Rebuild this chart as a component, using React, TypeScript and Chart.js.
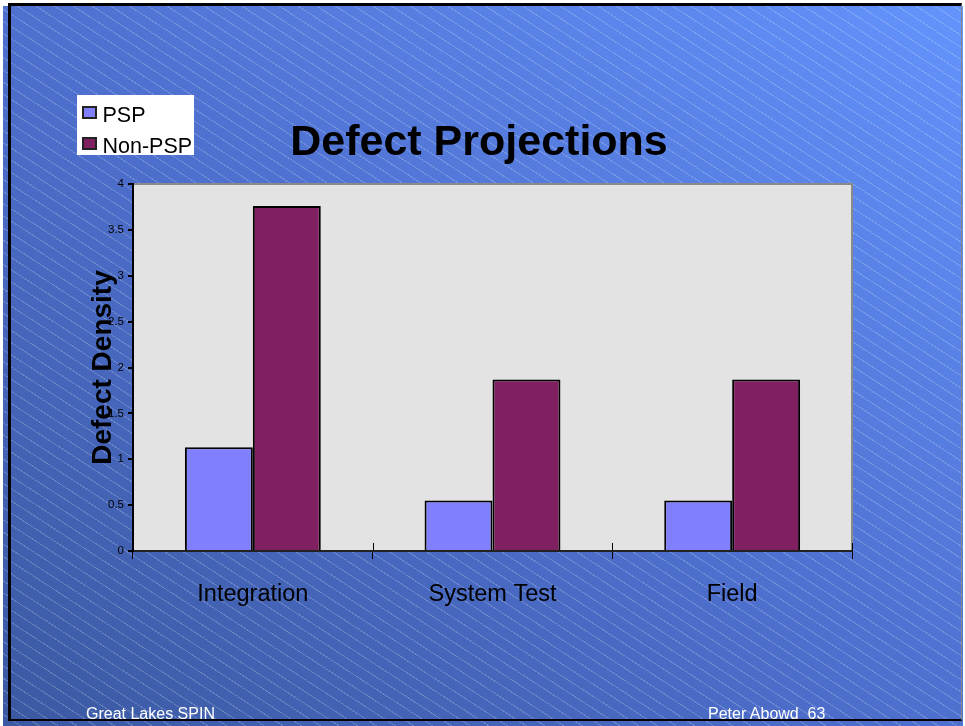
import React, { useEffect, useRef } from "react";
import { Chart, registerables } from "chart.js";

Chart.register(...registerables);

// ---- data ----
const categories = ["Integration", "System Test", "Field"];
const seriesNames = ["PSP", "Non-PSP"];
const pspValues = [1.13, 0.55, 0.55];
const nonPspValues = [3.76, 1.87, 1.87];
const yTickValues = [0, 0.5, 1, 1.5, 2, 2.5, 3, 3.5, 4];
const seriesColors = ["#8080ff", "#802060"];
const titleText = "Defect Projections";
const yTitleText = "Defect Density";
const footerLeft = "Great Lakes SPIN";
const footerRight = "Peter Abowd  63";

const FONT = '"Liberation Sans", Arial, Helvetica, sans-serif';

const plotBg = {
  id: "plotBg",
  beforeDraw(chart: any) {
    const { ctx, chartArea: a } = chart;
    ctx.save();
    ctx.fillStyle = "#e3e3e3";
    ctx.fillRect(a.left, a.top, a.right - a.left, a.bottom - a.top);
    ctx.strokeStyle = "#8a8a8a";
    ctx.lineWidth = 2;
    ctx.beginPath();
    ctx.moveTo(a.left, a.top);
    ctx.lineTo(a.right, a.top);
    ctx.lineTo(a.right, a.bottom);
    ctx.stroke();
    ctx.restore();
  },
};

const innerTicks = {
  id: "innerTicks",
  afterDraw(chart: any) {
    const { ctx, chartArea: a } = chart;
    const xs = chart.scales.x;
    ctx.save();
    ctx.strokeStyle = "#000";
    ctx.lineWidth = 1;
    for (let i = 0; i <= categories.length; i++) {
      const px = Math.round(xs.getPixelForValue(i - 0.5)) + 0.5;
      ctx.beginPath();
      ctx.moveTo(px, a.bottom - 8);
      ctx.lineTo(px, a.bottom);
      ctx.stroke();
    }
    ctx.restore();
  },
};

export default function App() {
  const ref = useRef<HTMLCanvasElement>(null);

  useEffect(() => {
    const chart = new Chart(ref.current as HTMLCanvasElement, {
      type: "bar",
      data: {
        labels: categories,
        datasets: [
          {
            label: seriesNames[0],
            data: pspValues,
            backgroundColor: seriesColors[0],
            borderColor: "#000",
            borderWidth: 2,
            categoryPercentage: 0.567,
            barPercentage: 1,
          },
          {
            label: seriesNames[1],
            data: nonPspValues,
            backgroundColor: seriesColors[1],
            borderColor: "#000",
            borderWidth: 2,
            categoryPercentage: 0.567,
            barPercentage: 1,
          },
        ],
      },
      options: {
        animation: false,
        responsive: true,
        maintainAspectRatio: false,
        layout: { padding: { top: 184, right: 113, bottom: 0, left: 0 } },
        plugins: {
          legend: { display: false },
          title: { display: false },
          tooltip: { enabled: false },
        },
        scales: {
          x: {
            type: "category",
            offset: true,
            grid: {
              offset: true,
              drawOnChartArea: false,
              color: "#000",
              lineWidth: 1,
              tickLength: 8,
            },
            border: { color: "#222", width: 2 },
            ticks: {
              color: "#000",
              font: { family: FONT, size: 23.5 },
              padding: 21,
              maxRotation: 0,
              autoSkip: false,
            },
            afterFit: (s: any) => {
              s.height = 175;
            },
          },
          y: {
            min: 0,
            max: 4,
            grid: {
              drawOnChartArea: false,
              color: "#000",
              lineWidth: 2,
              tickLength: 5,
            },
            border: { color: "#000", width: 2 },
            ticks: {
              color: "#000",
              font: { family: FONT, size: 11.5 },
              padding: 4,
              z: -2,
              callback: (v: any) => String(v),
            },
            afterBuildTicks: (s: any) => {
              s.ticks = yTickValues.map((v) => ({ value: v }));
            },
            title: {
              display: true,
              text: yTitleText,
              color: "#000",
              font: { family: FONT, size: 28, weight: "bold" },
              padding: { top: 86, bottom: 0 },
            },
            afterFit: (s: any) => {
              s.width = 133;
            },
          },
        },
      } as any,
      plugins: [plotBg, innerTicks],
    });
    return () => chart.destroy();
  }, []);

  const text = (
    content: string,
    left: number,
    top: number,
    size: number,
    extra: any = {}
  ) => (
    <div
      style={{
        position: "absolute",
        left,
        top,
        fontSize: size,
        lineHeight: `${size}px`,
        whiteSpace: "pre",
        fontFamily: FONT,
        ...extra,
      }}
    >
      {content}
    </div>
  );

  return (
    <div
      style={{
        position: "absolute",
        left: 0,
        top: 0,
        width: 965,
        height: 726,
        overflow: "hidden",
        background: "#fff",
        fontFamily: FONT,
      }}
    >
      <div
        style={{
          position: "absolute",
          left: 3,
          top: 6,
          width: 960,
          height: 720,
          background:
            "repeating-linear-gradient(33deg, rgba(255,255,255,0) 0px, rgba(255,255,255,0) 9.2px, rgba(255,255,255,0.2) 9.2px, rgba(255,255,255,0.2) 10.2px), linear-gradient(to top right, #3b59a2 0%, #4e70cf 50%, #6393fc 100%)",
        }}
      />
      <div
        style={{
          position: "absolute",
          left: 8,
          top: 3,
          width: 954,
          height: 718,
          boxSizing: "border-box",
          borderLeft: "3px solid #000",
          borderTop: "3px solid #000",
          borderBottom: "2px solid #000",
          borderRight: "1px solid #888",
        }}
      />
      <div style={{ position: "absolute", left: 0, top: 0, width: 965, height: 726 }}>
        <canvas ref={ref} />
      </div>
      {text(titleText, 479, 119, 43, {
        fontWeight: "bold",
        color: "#000",
        transform: "translateX(-50%)",
      })}
      <div
        style={{
          position: "absolute",
          left: 77,
          top: 95,
          width: 117,
          height: 60,
          background: "#fff",
        }}
      >
        {seriesNames.map((name, i) => (
          <React.Fragment key={name}>
            <div
              style={{
                position: "absolute",
                left: 5,
                top: 10.7 + i * 31.6,
                width: 14.5,
                height: 13,
                boxSizing: "border-box",
                border: "2px solid #222",
                background: seriesColors[i],
              }}
            />
            {text(name, 25.5, 10 + i * 30.7, 21.5, { color: "#000" })}
          </React.Fragment>
        ))}
      </div>
      {text(footerLeft, 86, 705.5, 16, { color: "#fff" })}
      {text(footerRight, 708, 705.5, 16, { color: "#fff" })}
    </div>
  );
}
